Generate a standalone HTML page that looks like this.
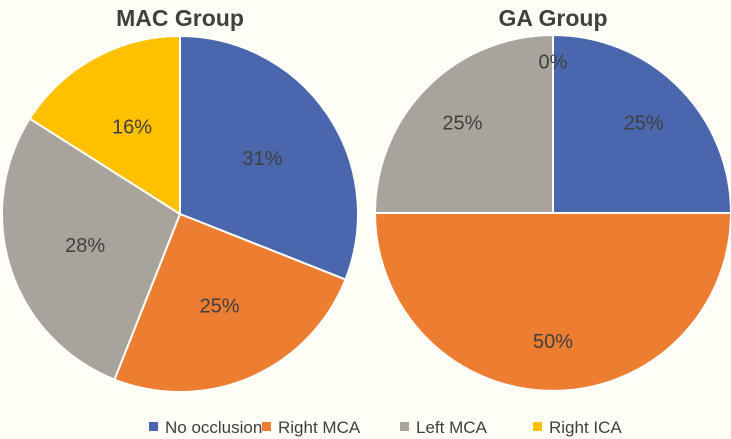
<!DOCTYPE html>
<html><head><meta charset="utf-8"><style>
body{margin:0;background:#fefdf6;}
svg{display:block;font-family:"Liberation Sans",sans-serif;}
</style></head><body>
<svg id="chart" width="731" height="439">
<text x="180" y="26" text-anchor="middle" font-size="23" font-weight="bold" fill="#404040">MAC Group</text>
<text x="553" y="26" text-anchor="middle" font-size="23" font-weight="bold" fill="#404040">GA Group</text>
<g id="legend"></g>
</svg>
<script>
const categories=["No occlusion","Right MCA","Left MCA","Right ICA"];
const macValues=[31,25,28,16];
const gaValues=[25,50,25,0];
const colors=["#4a66ac","#ed7d31","#a9a49b","#ffc000"];
const NS="http://www.w3.org/2000/svg";
const svg=document.getElementById('chart');
function pie(vals,cx,cy,r,lr,name){
  const tot=vals.reduce((a,b)=>a+b,0);let a0=0;
  vals.forEach((v,i)=>{
    const a1=a0+v/tot*2*Math.PI;
    if(v>0){
      const p=document.createElementNS(NS,'path');
      const x0=cx+r*Math.sin(a0),y0=cy-r*Math.cos(a0),x1=cx+r*Math.sin(a1),y1=cy-r*Math.cos(a1);
      const large=(a1-a0)>Math.PI?1:0;
      p.setAttribute('d',`M${cx},${cy}L${x0},${y0}A${r},${r} 0 ${large} 1 ${x1},${y1}Z`);
      p.setAttribute('fill',colors[i]);p.setAttribute('stroke','#fff');p.setAttribute('stroke-width','2');
      
      
      svg.appendChild(p);
    }
    const m=(a0+a1)/2,rr=v===0?r*0.85:r*lr;
    const t=document.createElementNS(NS,'text');
    t.setAttribute('x',cx+rr*Math.sin(m));t.setAttribute('y',cy-rr*Math.cos(m)+7);
    t.setAttribute('text-anchor','middle');t.setAttribute('font-size','20');t.setAttribute('fill','#404040');
    t.textContent=v+'%';
    
    
    svg.appendChild(t);
    a0=a1;
  });
}
pie(macValues,180,214,178,0.56,'mac');
pie(gaValues,553,213,178,0.72,'ga');
const lg=document.getElementById('legend');
const lx=[149,262,400,533];
categories.forEach((c,i)=>{
  const s=document.createElementNS(NS,'rect');
  s.setAttribute('x',lx[i]);s.setAttribute('y',422);s.setAttribute('width',9);s.setAttribute('height',9);s.setAttribute('fill',colors[i]);
  
  
  lg.appendChild(s);
  const t=document.createElementNS(NS,'text');
  t.setAttribute('x',lx[i]+16);t.setAttribute('y',433);t.setAttribute('font-size','17');t.setAttribute('fill','#404040');
  t.textContent=c;
  
  
  lg.appendChild(t);
});
</script>
</body></html>
